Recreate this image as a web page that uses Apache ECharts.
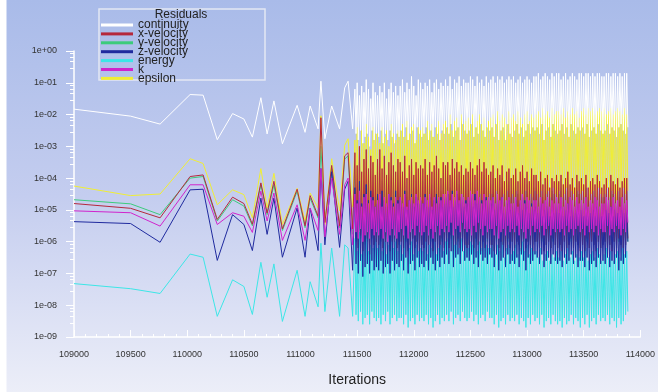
<!DOCTYPE html>
<html>
<head>
<meta charset="utf-8">
<title>Residuals</title>
<script src="https://cdn.jsdelivr.net/npm/echarts@6/dist/echarts.min.js"></script>
<style>
  html, body { margin: 0; padding: 0; background: #fff; }
  #chart {
    width: 658px; height: 392px;
    background:
      linear-gradient(to right, #ffffff 0, #ffffff 6px, rgba(255,255,255,0) 7px),
      linear-gradient(to bottom, #a9bbe9 0%, #c4cdef 50%, #eceef8 100%);
  }
</style>
</head>
<body>
<div id="chart"></div>
<script>
// iteration numbers of the plotted residual history
const iterations = [
  109000, 109500, 109760, 110025, 110140, 110265, 110400, 110500, 110575, 110650, 110705, 110765,
  110840, 110970, 111040, 111085, 111155, 111180, 111215, 111275, 111345, 111390, 111420, 111460,
  111480, 111490, 111500, 111510, 111520, 111530, 111540, 111550, 111560, 111570, 111580, 111590, 111600, 111610, 111620, 111630, 111640, 111650, 111660, 111670,
  111680, 111690, 111700, 111710, 111720, 111730, 111740, 111750, 111760, 111770, 111780, 111790, 111800, 111810, 111820, 111830, 111840, 111850, 111860, 111870,
  111880, 111890, 111900, 111910, 111920, 111930, 111940, 111950, 111960, 111970, 111980, 111990, 112000, 112010, 112020, 112030, 112040, 112050, 112060, 112070,
  112080, 112090, 112100, 112110, 112120, 112130, 112140, 112150, 112160, 112170, 112180, 112190, 112200, 112210, 112220, 112230, 112240, 112250, 112260, 112270,
  112280, 112290, 112300, 112310, 112320, 112330, 112340, 112350, 112360, 112370, 112380, 112390, 112400, 112410, 112420, 112430, 112440, 112450, 112460, 112470,
  112480, 112490, 112500, 112510, 112520, 112530, 112540, 112550, 112560, 112570, 112580, 112590, 112600, 112610, 112620, 112630, 112640, 112650, 112660, 112670,
  112680, 112690, 112700, 112710, 112720, 112730, 112740, 112750, 112760, 112770, 112780, 112790, 112800, 112810, 112820, 112830, 112840, 112850, 112860, 112870,
  112880, 112890, 112900, 112910, 112920, 112930, 112940, 112950, 112960, 112970, 112980, 112990, 113000, 113010, 113020, 113030, 113040, 113050, 113060, 113070,
  113080, 113090, 113100, 113110, 113120, 113130, 113140, 113150, 113160, 113170, 113180, 113190, 113200, 113210, 113220, 113230, 113240, 113250, 113260, 113270,
  113280, 113290, 113300, 113310, 113320, 113330, 113340, 113350, 113360, 113370, 113380, 113390, 113400, 113410, 113420, 113430, 113440, 113450, 113460, 113470,
  113480, 113490, 113500, 113510, 113520, 113530, 113540, 113550, 113560, 113570, 113580, 113590, 113600, 113610, 113620, 113630, 113640, 113650, 113660, 113670,
  113680, 113690, 113700, 113710, 113720, 113730, 113740, 113750, 113760, 113770, 113780, 113790, 113800, 113810, 113820, 113830, 113840, 113850, 113860, 113870,
  113880, 113890
];

// residuals as powers of ten (log10 of the value)
const continuityExp = [
  -1.83, -2.05, -2.30, -1.37, -1.39, -2.79, -1.97, -2.14, -2.71, -1.47, -2.61, -1.57,
  -2.92, -1.71, -2.56, -1.73, -2.45, -0.95, -2.76, -1.73, -2.45, -1.16, -0.95, -2.45,
  -1.2, -2.6, -1.0, -2.8, -1.4, -2.5, -1.1, -2.9, -1.3, -2.7, -0.9, -2.6, -1.2, -3.0, -1.5, -2.5, -1.0, -2.8, -1.3, -2.6,
  -1.4, -2.7, -1.1, -2.5, -1.3, -2.9, -1.0, -2.6, -1.5, -2.8, -1.2, -2.5, -1.0, -2.7, -1.3, -2.9, -1.1, -2.6, -1.4, -2.7,
  -1.1, -2.5, -0.9, -2.7, -1.3, -2.4, -1.0, -2.8, -1.2, -2.6, -0.8, -2.5, -1.1, -2.9, -1.4, -2.4, -0.9, -2.6, -1.0, -2.7,
  -1.2, -2.6, -1.0, -2.4, -1.1, -2.8, -0.9, -2.5, -1.3, -2.7, -1.0, -2.4, -0.9, -2.6, -1.2, -2.8, -1.0, -2.5, -1.1, -2.6,
  -0.9, -2.4, -1.1, -2.6, -0.8, -2.3, -1.2, -2.7, -0.9, -2.5, -1.0, -2.4, -0.8, -2.8, -1.1, -2.3, -0.9, -2.5, -1.0, -2.6,
  -1.0, -2.5, -0.8, -2.3, -0.9, -2.7, -1.1, -2.4, -0.8, -2.6, -1.0, -2.3, -0.9, -2.5, -1.1, -2.7, -0.8, -2.4, -1.0, -2.5,
  -0.9, -2.4, -0.8, -2.7, -1.0, -2.3, -0.8, -2.8, -0.9, -2.5, -0.8, -2.4, -1.0, -2.8, -0.9, -2.3, -0.8, -2.6, -0.9, -2.7,
  -0.8, -2.5, -1.0, -2.3, -0.9, -2.6, -0.8, -2.4, -1.0, -2.7, -0.9, -2.5, -0.8, -2.3, -0.9, -2.6, -1.0, -2.4, -0.8, -2.5,
  -0.8, -2.4, -0.7, -2.6, -0.9, -2.3, -0.8, -2.8, -0.7, -2.5, -0.8, -2.4, -0.9, -2.7, -0.7, -2.3, -0.8, -2.5, -0.7, -2.6,
  -0.7, -2.5, -0.9, -2.3, -0.8, -2.6, -0.7, -2.4, -0.9, -2.7, -0.8, -2.3, -0.7, -2.5, -0.8, -2.6, -0.9, -2.4, -0.7, -2.5,
  -0.7, -2.4, -0.8, -2.6, -0.7, -2.3, -0.7, -2.7, -0.8, -2.5, -0.7, -2.4, -0.8, -2.6, -0.7, -2.3, -0.7, -2.5, -0.8, -2.6,
  -0.8, -2.5, -0.7, -2.3, -0.7, -2.6, -0.8, -2.4, -0.7, -2.5, -0.7, -2.7, -0.8, -2.4, -0.7, -2.3, -0.8, -2.5, -0.7, -2.6,
  -0.7, -2.4
];
const xVelocityExp = [
  -4.80, -4.95, -5.25, -3.95, -3.90, -5.30, -4.60, -4.80, -5.45, -4.15, -5.10, -4.10,
  -5.60, -4.35, -5.50, -4.55, -5.20, -2.10, -5.40, -3.60, -5.50, -3.30, -3.20, -5.60,
  -3.2, -5.9, -3.6, -6.2, -3.0, -5.8, -3.8, -6.3, -3.4, -6.0, -3.1, -5.9, -3.7, -6.4, -3.3, -5.8, -3.5, -6.1, -3.9, -6.0,
  -3.4, -6.1, -3.1, -5.9, -3.7, -6.2, -3.3, -6.0, -3.9, -5.8, -3.5, -6.3, -3.2, -6.0, -3.6, -5.9, -3.8, -6.2, -3.4, -6.0,
  -3.5, -6.0, -3.8, -6.2, -3.3, -5.9, -4.0, -6.3, -3.6, -6.1, -3.4, -5.9, -3.9, -6.2, -3.5, -6.0, -3.7, -6.3, -3.6, -6.1,
  -3.7, -6.2, -3.4, -6.0, -3.9, -6.1, -3.5, -5.9, -3.8, -6.3, -3.6, -6.0, -3.3, -6.2, -3.7, -6.1, -4.0, -5.9, -3.5, -6.2,
  -3.6, -6.0, -3.5, -6.2, -3.9, -5.8, -3.4, -6.3, -3.7, -6.1, -3.5, -5.9, -3.8, -6.2, -3.6, -6.0, -3.9, -6.1, -3.7, -6.2,
  -3.8, -6.1, -3.5, -6.0, -3.7, -6.2, -3.9, -5.9, -3.6, -6.1, -3.4, -6.3, -3.8, -6.0, -3.5, -6.2, -3.7, -5.9, -3.9, -6.1,
  -3.8, -6.1, -3.6, -6.3, -4.0, -5.9, -3.7, -6.2, -3.9, -6.0, -3.6, -6.1, -4.1, -6.3, -3.8, -5.9, -3.7, -6.2, -4.0, -6.0,
  -3.9, -6.2, -3.7, -6.0, -4.1, -6.1, -3.8, -6.3, -3.6, -5.9, -4.0, -6.2, -3.8, -6.0, -4.1, -6.1, -3.7, -6.3, -3.9, -6.0,
  -3.9, -6.0, -4.1, -6.2, -3.8, -5.9, -4.2, -6.3, -4.0, -6.1, -3.9, -6.0, -4.3, -6.2, -4.0, -5.9, -4.1, -6.1, -3.9, -6.2,
  -4.1, -6.1, -3.9, -6.3, -4.2, -6.0, -4.0, -6.2, -3.8, -6.1, -4.2, -5.9, -4.0, -6.2, -4.3, -6.0, -3.9, -6.1, -4.1, -6.3,
  -4.0, -6.1, -4.2, -6.3, -3.9, -5.9, -4.3, -6.2, -4.1, -6.0, -4.0, -6.1, -4.2, -6.3, -3.9, -6.0, -4.1, -6.2, -4.3, -6.1,
  -4.2, -6.0, -4.0, -6.2, -4.3, -6.1, -3.9, -6.3, -4.1, -6.0, -4.2, -6.2, -4.0, -5.9, -4.3, -6.1, -4.1, -6.2, -4.0, -6.1,
  -4.0, -5.9
];
const yVelocityExp = [
  -4.68, -4.81, -5.15, -4.00, -3.95, -5.35, -4.68, -4.88, -5.50, -4.21, -5.15, -4.21,
  -5.65, -4.41, -5.56, -4.63, -5.25, -3.00, -5.35, -3.70, -5.56, -3.40, -3.30, -5.77,
  -3.6, -6.0, -4.0, -6.2, -3.5, -5.9, -4.2, -6.3, -3.8, -6.1, -3.5, -6.0, -4.1, -6.3, -3.7, -5.9, -3.9, -6.1, -4.3, -6.0,
  -3.8, -6.1, -3.6, -6.0, -4.1, -6.2, -3.7, -6.0, -4.2, -5.9, -3.9, -6.3, -3.6, -6.1, -4.0, -6.0, -4.2, -6.2, -3.8, -6.1,
  -3.9, -6.0, -4.2, -6.1, -3.7, -6.0, -4.4, -6.2, -4.0, -6.1, -3.8, -5.9, -4.3, -6.2, -3.9, -6.0, -4.1, -6.2, -4.0, -6.1,
  -4.1, -6.2, -3.8, -6.0, -4.3, -6.1, -3.9, -6.0, -4.2, -6.2, -4.0, -6.0, -3.7, -6.1, -4.1, -6.2, -4.4, -6.0, -3.9, -6.1,
  -4.0, -6.0, -3.9, -6.1, -4.3, -5.9, -3.8, -6.2, -4.1, -6.1, -3.9, -6.0, -4.2, -6.1, -4.0, -6.0, -4.3, -6.1, -4.1, -6.2,
  -4.2, -6.1, -3.9, -6.0, -4.1, -6.2, -4.3, -6.0, -4.0, -6.1, -3.8, -6.2, -4.2, -6.0, -3.9, -6.1, -4.1, -6.0, -4.3, -6.1,
  -4.2, -6.1, -4.0, -6.2, -4.4, -6.0, -4.1, -6.2, -4.3, -6.0, -4.0, -6.1, -4.5, -6.2, -4.2, -6.0, -4.1, -6.2, -4.4, -6.0,
  -4.3, -6.2, -4.1, -6.0, -4.5, -6.1, -4.2, -6.2, -4.0, -6.0, -4.4, -6.1, -4.2, -6.0, -4.5, -6.2, -4.1, -6.1, -4.3, -6.0,
  -4.3, -6.0, -4.5, -6.2, -4.2, -6.0, -4.6, -6.2, -4.4, -6.1, -4.3, -6.0, -4.6, -6.2, -4.4, -6.0, -4.5, -6.1, -4.3, -6.2,
  -4.5, -6.1, -4.3, -6.2, -4.6, -6.0, -4.4, -6.2, -4.2, -6.1, -4.6, -6.0, -4.4, -6.2, -4.6, -6.0, -4.3, -6.1, -4.5, -6.2,
  -4.4, -6.1, -4.6, -6.2, -4.3, -6.0, -4.6, -6.2, -4.5, -6.0, -4.4, -6.1, -4.6, -6.2, -4.3, -6.0, -4.5, -6.2, -4.6, -6.1,
  -4.6, -6.0, -4.4, -6.2, -4.6, -6.1, -4.3, -6.2, -4.5, -6.0, -4.6, -6.2, -4.4, -6.0, -4.6, -6.1, -4.5, -6.2, -4.4, -6.1,
  -4.4, -6.0
];
const zVelocityExp = [
  -5.37, -5.43, -6.02, -4.37, -4.35, -6.59, -5.15, -5.46, -6.28, -4.63, -5.77, -4.63,
  -6.49, -4.94, -6.49, -4.94, -6.28, -3.70, -6.10, -3.80, -6.18, -4.35, -4.10, -6.90,
  -4.3, -6.7, -4.7, -7.0, -4.1, -6.6, -4.8, -7.1, -4.5, -6.8, -4.2, -6.7, -4.7, -7.0, -4.4, -6.6, -4.6, -6.9, -4.9, -6.8,
  -4.5, -6.9, -4.8, -6.6, -4.4, -7.0, -4.7, -6.8, -4.9, -6.7, -4.5, -7.0, -4.6, -6.6, -4.8, -6.9, -4.4, -6.7, -4.7, -6.8,
  -4.6, -6.6, -4.9, -6.9, -4.4, -6.5, -5.0, -7.0, -4.7, -6.7, -4.5, -6.6, -4.9, -6.9, -4.6, -6.5, -4.8, -6.8, -4.7, -6.7,
  -4.8, -6.8, -4.5, -6.6, -4.9, -6.9, -4.6, -6.5, -5.0, -6.7, -4.7, -6.9, -4.5, -6.6, -4.8, -6.8, -4.6, -6.5, -4.9, -6.7,
  -4.6, -6.4, -4.5, -6.7, -4.9, -6.3, -4.4, -6.8, -4.7, -6.5, -4.5, -6.4, -4.8, -6.7, -4.6, -6.3, -4.9, -6.6, -4.7, -6.5,
  -4.8, -6.6, -4.6, -6.4, -4.9, -6.7, -4.5, -6.5, -4.8, -6.8, -4.6, -6.4, -4.7, -6.6, -4.9, -6.5, -4.6, -6.7, -4.8, -6.4,
  -4.8, -6.5, -4.6, -6.8, -5.0, -6.4, -4.7, -6.9, -4.9, -6.6, -4.6, -6.5, -5.1, -6.8, -4.8, -6.4, -4.7, -6.7, -5.0, -6.6,
  -4.9, -6.7, -4.7, -6.5, -5.1, -6.8, -4.8, -6.4, -5.0, -6.6, -4.7, -6.9, -4.9, -6.5, -5.1, -6.7, -4.8, -6.6, -5.0, -6.4,
  -4.9, -6.5, -5.1, -6.7, -4.8, -6.4, -5.2, -6.8, -5.0, -6.6, -4.9, -6.5, -5.2, -6.7, -5.0, -6.4, -5.1, -6.6, -4.9, -6.7,
  -5.1, -6.6, -4.9, -6.8, -5.2, -6.5, -5.0, -6.7, -4.8, -6.6, -5.2, -6.4, -5.0, -6.7, -5.1, -6.5, -4.9, -6.8, -5.1, -6.6,
  -5.0, -6.6, -5.2, -6.8, -4.9, -6.5, -5.2, -6.9, -5.1, -6.7, -5.0, -6.6, -5.2, -6.8, -4.9, -6.5, -5.1, -6.7, -5.2, -6.6,
  -5.2, -6.7, -5.0, -6.5, -5.1, -6.8, -4.9, -6.6, -5.2, -6.7, -5.0, -6.5, -5.1, -6.9, -5.2, -6.6, -5.0, -6.7, -5.1, -6.5,
  -5.0, -6.0
];
const energyExp = [
  -7.32, -7.48, -7.63, -6.39, -6.49, -8.35, -7.20, -7.41, -8.29, -6.65, -7.75, -6.70,
  -8.51, -6.90, -8.35, -7.26, -8.05, -6.05, -8.20, -6.20, -8.35, -6.10, -6.20, -8.35,
  -5.9, -8.3, -6.3, -8.5, -5.7, -8.2, -6.4, -8.6, -6.0, -8.4, -5.8, -8.3, -6.3, -8.6, -6.1, -8.2, -6.2, -8.4, -5.9, -8.5,
  -6.2, -8.4, -5.9, -8.6, -6.3, -8.3, -6.0, -8.5, -6.4, -8.2, -6.1, -8.6, -5.8, -8.4, -6.2, -8.3, -6.0, -8.5, -6.3, -8.4,
  -6.1, -8.4, -6.4, -8.6, -5.9, -8.3, -6.5, -8.7, -6.2, -8.5, -6.0, -8.4, -6.4, -8.6, -6.1, -8.3, -6.3, -8.5, -6.2, -8.4,
  -6.3, -8.5, -6.0, -8.3, -6.4, -8.6, -6.1, -8.4, -6.2, -8.7, -6.0, -8.5, -6.4, -8.3, -6.2, -8.6, -6.1, -8.4, -6.3, -8.5,
  -6.0, -8.3, -5.9, -8.5, -6.3, -8.2, -5.8, -8.6, -6.1, -8.4, -6.0, -8.3, -6.2, -8.5, -5.9, -8.2, -6.3, -8.4, -6.1, -8.5,
  -6.2, -8.4, -6.0, -8.2, -6.1, -8.5, -5.9, -8.3, -6.3, -8.6, -6.0, -8.4, -6.2, -8.3, -5.9, -8.5, -6.1, -8.2, -6.2, -8.4,
  -6.2, -8.4, -6.0, -8.6, -6.4, -8.3, -6.1, -8.7, -6.3, -8.5, -6.0, -8.4, -6.5, -8.6, -6.2, -8.3, -6.1, -8.5, -6.4, -8.4,
  -6.3, -8.5, -6.1, -8.3, -6.4, -8.6, -6.2, -8.4, -6.0, -8.5, -6.3, -8.7, -6.1, -8.4, -6.4, -8.6, -6.2, -8.3, -6.3, -8.5,
  -6.3, -8.4, -6.5, -8.6, -6.2, -8.3, -6.6, -8.7, -6.4, -8.5, -6.3, -8.4, -6.6, -8.6, -6.4, -8.3, -6.5, -8.5, -6.3, -8.6,
  -6.5, -8.5, -6.3, -8.7, -6.6, -8.4, -6.4, -8.6, -6.2, -8.5, -6.5, -8.3, -6.3, -8.6, -6.6, -8.4, -6.4, -8.5, -6.5, -8.7,
  -6.3, -8.4, -6.5, -8.6, -6.2, -8.3, -6.6, -8.7, -6.4, -8.5, -6.3, -8.4, -6.5, -8.6, -6.2, -8.3, -6.4, -8.5, -6.6, -8.4,
  -6.4, -8.5, -6.2, -8.3, -6.5, -8.6, -6.3, -8.4, -6.6, -8.5, -6.4, -8.7, -6.3, -8.4, -6.5, -8.6, -6.2, -8.5, -6.4, -8.3,
  -6.3, -8.2
];
const kExp = [
  -5.03, -5.09, -5.51, -4.21, -4.21, -5.46, -5.09, -5.20, -5.71, -4.41, -5.35, -4.47,
  -5.96, -4.84, -5.96, -4.94, -5.65, -3.70, -5.85, -4.00, -5.77, -4.21, -4.00, -6.10,
  -4.5, -5.7, -4.8, -5.9, -4.4, -5.6, -4.9, -6.0, -4.6, -5.8, -4.5, -5.7, -4.8, -5.9, -4.6, -5.6, -4.7, -5.8, -4.9, -5.7,
  -4.7, -5.8, -4.5, -5.6, -4.9, -5.9, -4.6, -5.7, -4.8, -6.0, -4.5, -5.8, -4.7, -5.6, -4.9, -5.8, -4.6, -5.9, -4.8, -5.7,
  -4.6, -5.6, -4.8, -5.8, -4.5, -5.5, -4.9, -5.9, -4.7, -5.7, -4.6, -5.6, -4.8, -5.8, -4.5, -5.5, -4.7, -5.7, -4.6, -5.8,
  -4.8, -5.7, -4.6, -5.5, -4.7, -5.8, -4.5, -5.6, -4.9, -5.9, -4.6, -5.7, -4.8, -5.5, -4.6, -5.8, -4.7, -5.6, -4.5, -5.7,
  -4.5, -5.5, -4.4, -5.7, -4.7, -5.4, -4.5, -5.8, -4.6, -5.6, -4.4, -5.5, -4.7, -5.7, -4.5, -5.4, -4.6, -5.6, -4.8, -5.7,
  -4.6, -5.6, -4.4, -5.8, -4.5, -5.5, -4.7, -5.7, -4.4, -5.4, -4.6, -5.6, -4.8, -5.8, -4.5, -5.5, -4.7, -5.7, -4.6, -5.6,
  -4.7, -5.6, -4.6, -5.8, -4.8, -5.5, -4.5, -5.9, -4.7, -5.7, -4.6, -5.6, -4.9, -5.8, -4.7, -5.5, -4.6, -5.7, -4.8, -5.6,
  -4.8, -5.7, -4.6, -5.5, -4.9, -5.8, -4.7, -5.6, -4.5, -5.7, -4.8, -5.9, -4.6, -5.6, -4.7, -5.8, -4.9, -5.5, -4.7, -5.7,
  -4.7, -5.6, -4.9, -5.7, -4.6, -5.5, -4.8, -5.8, -4.7, -5.6, -4.6, -5.5, -4.9, -5.8, -4.7, -5.6, -4.8, -5.7, -4.6, -5.6,
  -4.8, -5.7, -4.6, -5.6, -4.9, -5.8, -4.7, -5.5, -4.8, -5.7, -4.6, -5.6, -4.7, -5.8, -4.9, -5.6, -4.6, -5.5, -4.8, -5.7,
  -4.7, -5.6, -4.8, -5.8, -4.6, -5.5, -4.9, -5.7, -4.7, -5.6, -4.8, -5.7, -4.6, -5.5, -4.7, -5.8, -4.9, -5.6, -4.8, -5.7,
  -4.8, -5.7, -4.6, -5.5, -4.7, -5.8, -4.9, -5.6, -4.6, -5.7, -4.8, -5.5, -4.7, -5.6, -4.9, -5.8, -4.6, -5.6, -4.8, -5.7,
  -4.7, -5.4
];
const epsilonExp = [
  -4.25, -4.55, -4.50, -3.39, -3.54, -4.84, -4.37, -4.52, -5.25, -3.70, -4.94, -3.85,
  -5.46, -4.32, -5.35, -4.47, -4.94, -2.04, -5.46, -3.39, -5.03, -2.97, -2.76, -4.90,
  -2.8, -4.9, -2.4, -5.1, -3.0, -4.8, -2.5, -5.2, -2.9, -5.0, -2.3, -4.8, -2.7, -5.1, -3.1, -4.9, -2.4, -5.0, -2.6, -4.8,
  -2.6, -5.0, -2.9, -4.8, -2.4, -5.1, -2.7, -4.9, -2.5, -5.0, -3.0, -4.8, -2.3, -4.9, -2.6, -5.1, -2.8, -4.8, -2.5, -4.9,
  -2.5, -4.7, -2.3, -4.9, -2.7, -4.6, -2.2, -5.0, -2.6, -4.8, -2.4, -4.7, -2.3, -4.9, -2.8, -4.6, -2.4, -4.8, -2.5, -4.7,
  -2.4, -4.8, -2.6, -4.6, -2.2, -4.9, -2.5, -4.7, -2.3, -4.8, -2.7, -4.6, -2.4, -4.7, -2.2, -4.9, -2.6, -4.7, -2.3, -4.8,
  -2.2, -4.6, -2.4, -4.8, -2.0, -4.5, -2.5, -4.9, -2.2, -4.7, -2.1, -4.6, -2.4, -4.8, -2.0, -4.5, -2.3, -4.7, -2.2, -4.6,
  -2.1, -4.7, -2.3, -4.5, -2.0, -4.8, -2.4, -4.6, -2.2, -4.7, -2.0, -4.5, -2.3, -4.8, -2.1, -4.6, -2.4, -4.7, -2.2, -4.5,
  -2.1, -4.5, -2.0, -4.7, -2.3, -4.4, -1.9, -4.8, -2.2, -4.6, -2.0, -4.5, -2.1, -4.7, -2.3, -4.4, -1.9, -4.6, -2.1, -4.5,
  -2.0, -4.6, -2.2, -4.4, -1.9, -4.7, -2.1, -4.5, -2.3, -4.6, -2.0, -4.4, -1.9, -4.7, -2.2, -4.5, -2.0, -4.6, -2.1, -4.4,
  -2.0, -4.5, -1.9, -4.6, -2.1, -4.4, -1.8, -4.7, -2.0, -4.5, -1.9, -4.4, -2.1, -4.6, -1.8, -4.3, -2.0, -4.5, -1.9, -4.6,
  -1.9, -4.4, -2.0, -4.6, -1.8, -4.5, -2.1, -4.3, -1.9, -4.6, -2.0, -4.4, -1.8, -4.5, -2.0, -4.7, -1.9, -4.4, -2.1, -4.5,
  -1.9, -4.4, -1.8, -4.6, -2.0, -4.3, -1.8, -4.7, -1.9, -4.5, -1.8, -4.4, -2.0, -4.6, -1.9, -4.3, -1.8, -4.5, -1.9, -4.6,
  -1.8, -4.5, -2.0, -4.3, -1.9, -4.6, -1.8, -4.4, -2.0, -4.5, -1.9, -4.7, -1.8, -4.4, -1.9, -4.6, -2.0, -4.3, -1.8, -4.5,
  -2.0, -4.4
];

const legendNames = ['continuity', 'x-velocity', 'y-velocity', 'z-velocity', 'energy', 'k', 'epsilon'];
const yTickExponents = [0, -1, -2, -3, -4, -5, -6, -7, -8, -9];

const chart = echarts.init(document.getElementById('chart'), null, { renderer: 'canvas' });

const toPoints = exps => iterations.map((it, i) => [it, Math.pow(10, exps[i])]);

const lineSeries = (name, exps, color) => ({
  name: name,
  type: 'line',
  data: toPoints(exps),
  showSymbol: false,
  symbol: 'none',
  color: color,
  lineStyle: { color: color, width: 1 },
  animation: false,
  silent: true
});

const fmtExp = v => {
  const e = Math.round(Math.log10(v));
  const s = e < 0 ? '-' : '+';
  const a = Math.abs(e);
  return '1e' + s + (a < 10 ? '0' + a : a);
};

const option = {
  backgroundColor: 'transparent',
  textStyle: { fontFamily: 'Liberation Sans, Arial, sans-serif' },
  grid: { left: 74, right: 10, top: 51, bottom: 51 },
  graphic: [
    {
      type: 'rect',
      shape: { x: 99, y: 9, width: 166, height: 71 },
      style: { fill: 'none', stroke: '#e3e7f3', lineWidth: 1.5 },
      silent: true
    },
    {
      type: 'text',
      x: 181, y: 15,
      style: {
        text: 'Residuals', fill: '#222', fontSize: 12,
        fontFamily: 'Liberation Sans, Arial, sans-serif',
        align: 'center', verticalAlign: 'middle'
      },
      silent: true
    }
  ],
  legend: {
    data: legendNames,
    orient: 'vertical',
    left: 101,
    top: 19,
    padding: 0,
    itemWidth: 32,
    itemHeight: 3,
    itemGap: -3.1,
    icon: 'rect',
    selectedMode: false,
    textStyle: { fontSize: 12, color: '#222' }
  },
  xAxis: {
    type: 'value',
    min: 109000,
    max: 114000,
    interval: 500,
    name: 'Iterations',
    nameLocation: 'middle',
    nameGap: 36,
    nameTextStyle: { fontSize: 14, color: '#222' },
    axisLine: { lineStyle: { color: '#ffffff', width: 1.5 } },
    axisTick: { inside: true, length: 7, lineStyle: { color: '#ffffff' } },
    minorTick: { show: true, splitNumber: 5, length: 3, lineStyle: { color: '#ffffff' } },
    axisLabel: { color: '#333', fontSize: 9, margin: 13, formatter: v => String(v) },
    splitLine: { show: false }
  },
  yAxis: {
    type: 'log',
    logBase: 10,
    min: Math.pow(10, yTickExponents[yTickExponents.length - 1]),
    max: Math.pow(10, yTickExponents[0]),
    splitNumber: 9,
    axisLine: { lineStyle: { color: '#ffffff', width: 1.5 } },
    axisTick: { length: 8, lineStyle: { color: '#ffffff' } },
    minorTick: { show: true, splitNumber: 5, length: 4, lineStyle: { color: '#ffffff' } },
    axisLabel: { color: '#333', fontSize: 9, margin: 17, formatter: fmtExp },
    splitLine: { show: false }
  },
  // drawing order: later series sit on top
  series: [
    lineSeries('y-velocity', yVelocityExp, '#3ccb7c'),
    lineSeries('energy', energyExp, '#3ce6e6'),
    lineSeries('epsilon', epsilonExp, '#f0ee34'),
    lineSeries('continuity', continuityExp, '#ffffff'),
    lineSeries('x-velocity', xVelocityExp, '#b5283c'),
    lineSeries('z-velocity', zVelocityExp, '#1f2a9e'),
    lineSeries('k', kExp, '#d024cc')
  ]
};

chart.setOption(option);
window.addEventListener('resize', () => chart.resize());
</script>
</body>
</html>
